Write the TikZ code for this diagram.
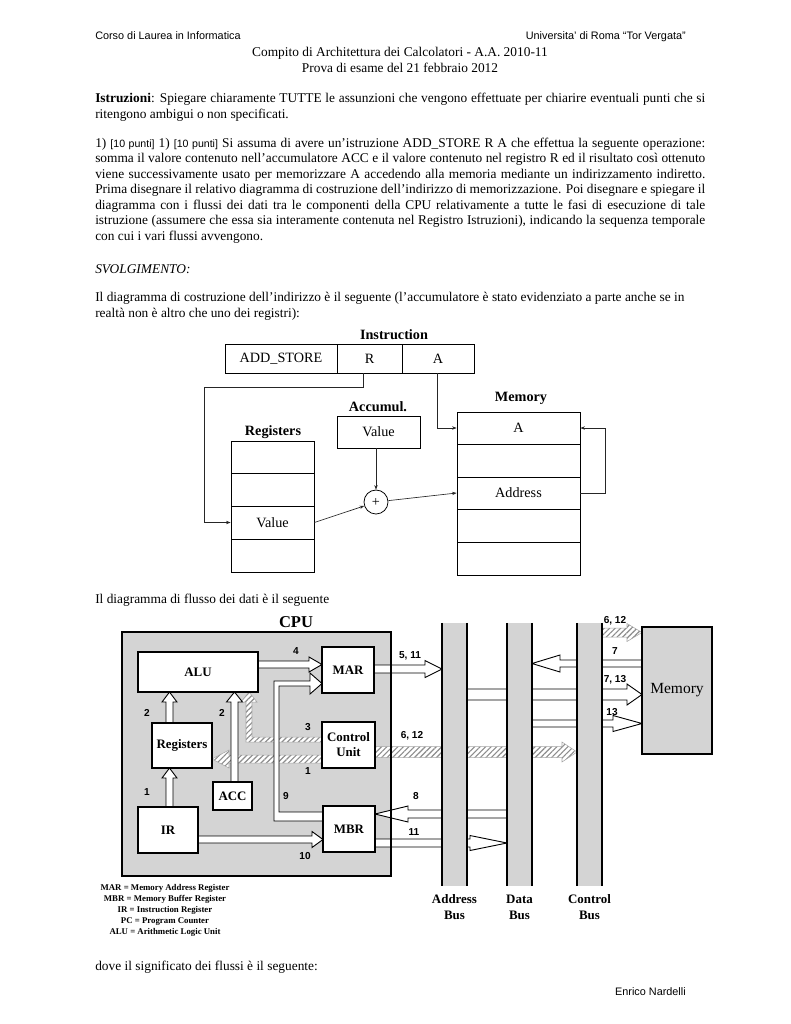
\documentclass[tikz,border=0pt]{standalone}
\usepackage{fontspec}
\setmainfont{Liberation Serif}
\newfontfamily\arialf{Liberation Sans}
\usetikzlibrary{patterns.meta,arrows.meta,calc}
\newcommand\bodyfont{\fontsize{10.35}{12}\selectfont}
\newlength\jw \setlength\jw{472pt}
\newcommand\jl[1]{\makebox[\jw][s]{#1}}
\newcommand\pnt{{\arialf\fontsize{8.2}{10}\selectfont [10 punti]}}
% rectangle node from corners: [style]{name}{x1}{y1}{x2}{y2}{text}
\newcommand\rbox[7][]{\node[rbx,#1,minimum width={(#5-#3)*0.7737pt},minimum height={(#6-#4)*0.7737pt}] (#2) at ({(#3+#5)/2},{(#4+#6)/2}) {#7};}
% horizontal block arrow: [style]{xstart}{xbase}{xtip}{yc}{hw}{hhw}
\newcommand\harr[7][]{\draw[barrow,#1] (#2,{#5-#6}) -- (#3,{#5-#6}) -- (#3,{#5-#7}) -- (#4,#5) -- (#3,{#5+#7}) -- (#3,{#5+#6}) -- (#2,{#5+#6}) -- cycle;}
% vertical block arrow: [style]{ystart}{ybase}{ytip}{xc}{hw}{hhw}
\newcommand\varr[7][]{\draw[barrow,#1] ({#5-#6},#2) -- ({#5-#6},#3) -- ({#5-#7},#3) -- (#5,#4) -- ({#5+#7},#3) -- ({#5+#6},#3) -- ({#5+#6},#2) -- cycle;}
\definecolor{cpugray}{RGB}{212,212,212}
\begin{document}
\begin{tikzpicture}[x=0.7737pt,y=-0.7737pt,
  txt/.style={anchor=base west,inner sep=0pt,font=\bodyfont},
  hdr/.style={inner sep=0pt,font=\arialf\fontsize{8.4}{10}\selectfont},
  rbx/.style={draw,line width=0.6pt,fill=white,inner sep=0pt,font=\fontsize{11}{13}\selectfont},
  cbx/.style={line width=1.1pt,font=\bfseries\fontsize{10}{11.5}\selectfont,align=center},
  dtitle/.style={inner sep=0pt,font=\bfseries\fontsize{11}{13}\selectfont},
  thinl/.style={line width=0.5pt,draw=black!85,-{Stealth[length=3.5pt,width=2.6pt]}},
  barrow/.style={draw=black,line width=0.7pt,fill=white,line join=miter},
  hatch/.style={draw=gray!70,line width=0.4pt,preaction={fill=white},pattern={Lines[angle=45,distance=3pt,line width=0.9pt]},pattern color=gray!90},
  num/.style={inner sep=0pt,font=\arialf\bfseries\fontsize{7.8}{9}\selectfont},
  bus/.style={fill=cpugray,inner sep=0pt,minimum width={25*0.7737pt},minimum height={263*0.7737pt}},
  buslbl/.style={align=center,inner sep=0pt,font=\bfseries\fontsize{10}{12.4}\selectfont}]
\useasboundingbox (0,0) rectangle (791,1024);
\fill[white] (0,0) rectangle (791,1024);

% ---------------- text ----------------
\node[hdr,anchor=base west] (h1) at (95,39) {Corso di Laurea in Informatica};
\node[hdr,anchor=base east] (h2) at (686,39) {Universita’ di Roma “Tor Vergata”};
\node[txt,anchor=base] (t1) at (400,56) {Compito di Architettura dei Calcolatori - A.A. 2010-11};
\node[txt,anchor=base] (t2) at (400,72) {Prova di esame del 21 febbraio 2012};
\node[txt] (i1) at (95,102) {\jl{\textbf{Istruzioni}: Spiegare chiaramente TUTTE le assunzioni che vengono effettuate per chiarire eventuali punti che si}};
\node[txt] (i2) at (95,118) {ritengono ambigui o non specificati.};
\node[txt] (p1) at (95,147) {\jl{1) \pnt{} 1) \pnt{} Si assuma di avere un’istruzione ADD\_STORE R A che effettua la seguente operazione:}};
\node[txt] (p2) at (95,162.5) {\jl{somma il valore contenuto nell’accumulatore ACC e il valore contenuto nel registro R ed il risultato così ottenuto}};
\node[txt] (p3) at (95,178) {\jl{viene successivamente usato per memorizzare A accedendo alla memoria mediante un indirizzamento indiretto.}};
\node[txt] (p4) at (95,193.5) {\jl{Prima disegnare il relativo diagramma di costruzione dell’indirizzo di memorizzazione. Poi disegnare e spiegare il}};
\node[txt] (p5) at (95,209) {\jl{diagramma con i flussi dei dati tra le componenti della CPU relativamente a tutte le fasi di esecuzione di tale}};
\node[txt] (p6) at (95,224.5) {\jl{istruzione (assumere che essa sia interamente contenuta nel Registro Istruzioni), indicando la sequenza temporale}};
\node[txt] (p7) at (95,240) {con cui i vari flussi avvengono.};
\node[txt] (sv) at (95,273) {\textit{SVOLGIMENTO:}};
\node[txt] (d1) at (95,301) {Il diagramma di costruzione dell’indirizzo è il seguente (l’accumulatore è stato evidenziato a parte anche se in};
\node[txt] (d2) at (95,317) {realtà non è altro che uno dei registri):};
\node[txt] (f1) at (95,603) {Il diagramma di flusso dei dati è il seguente};
\node[txt] (f2) at (95,970) {dove il significato dei flussi è il seguente:};
\node[hdr,anchor=base east] (en) at (686,995) {Enrico Nardelli};

% ---------------- address construction diagram ----------------
\node[dtitle] (tins) at (394,335) {Instruction};
\rbox{ins1}{225}{344}{337}{373}{ADD\_STORE}
\rbox{ins2}{337}{344}{402}{373}{R}
\rbox{ins3}{402}{344}{474}{373}{A}
\node[dtitle] (tacc) at (378,407) {Accumul.};
\rbox[text depth=0pt]{acc}{337}{416}{420}{448}{Value}
\node[dtitle] (treg) at (273,432) {Registers};
\rbox{reg1}{231}{441}{314}{473}{}
\rbox{reg2}{231}{473}{314}{506}{}
\rbox{reg3}{231}{506}{314}{539}{Value}
\rbox{reg4}{231}{539}{314}{572}{}
\node[dtitle] (tmem) at (521,398) {Memory};
\rbox{mem1}{457}{412}{580}{444}{A}
\rbox{mem2}{457}{444}{580}{477}{}
\rbox{mem3}{457}{477}{580}{509}{Address}
\rbox{mem4}{457}{509}{580}{542}{}
\rbox{mem5}{457}{542}{580}{575}{}
\node[draw,line width=0.6pt,circle,minimum size={24*0.7737pt},inner sep=0pt,font=\fontsize{11}{13}\selectfont] (plus) at (376,502) {+};
\coordinate (rdown) at (363,387);
\coordinate (rleft) at (204,522.5);
\coordinate (loopr) at (605,493);
\draw[thinl] (ins2.south -| rdown) -- (rdown) -| (rleft) -- (reg3.west);
\draw[thinl] (ins3.south -| 437,0) |- (mem1.west);
\draw[thinl] (plus.north |- acc.south) -- (plus.north);
\draw[thinl] (reg3.east) -- (plus);
\draw[thinl] (plus) -- (mem3.west);
\draw[thinl] (mem3.east) -- (loopr) |- (mem1.east);

% ---------------- data flow diagram ----------------
\node[inner sep=0pt,font=\bfseries\fontsize{12.8}{14}\selectfont] (tcpu) at (296,622) {CPU};
\fill[cpugray] (122,632) rectangle (391,876);
% hatched arrows
\draw[hatch] (322,737) -- (252,737) -- (252,702) -- (257,702) -- (249,692) -- (241,702) -- (246,702) -- (246,742) -- (322,742) -- cycle;
\harr[hatch]{322}{229}{212}{759}{4}{9}
\harr[hatch]{375}{562}{577}{752}{5.5}{10}
\harr[hatch]{602}{627}{642}{632.5}{4.5}{9}
% white block arrows
\varr{807}{778}{768}{169.5}{3.5}{7.5}
\varr{723}{702}{692}{169.5}{3.5}{7.5}
\varr{782}{702}{692}{234.5}{3.5}{8}
\harr{258}{309}{322}{664.5}{3.5}{7.5}
\draw[barrow] (323,812) -- (279,812) -- (279,686) -- (310,686) -- (310,694) -- (322,683.5) -- (310,673) -- (310,681) -- (274,681) -- (274,821) -- (323,821) -- cycle;
\harr{198}{312}{323}{839.5}{3.5}{8}
\harr{374}{425}{442}{669}{4}{8.5}
\harr{507}{408}{375}{814}{4}{8}
\harr{375}{470}{507}{843}{4}{7.5}
\harr{642}{560}{532}{663.5}{3.5}{8.5}
\harr{467}{627}{642}{694.5}{5.5}{10.5}
\harr{532}{613}{642}{723.5}{3.5}{8}
% component boxes
\rbox[cbx]{alu}{138}{652}{258}{692}{ALU}
\rbox[cbx]{regs}{152}{723}{212}{768}{Registers}
\rbox[cbx]{ir}{138}{807}{198}{853}{IR}
\rbox[cbx]{accb}{213}{782}{252}{810}{ACC}
\rbox[cbx]{mar}{322}{647}{374}{693}{MAR}
\rbox[cbx]{cu}{322}{722}{375}{768}{Control\\Unit}
\rbox[cbx]{mbr}{323}{806}{375}{852}{MBR}
\draw[line width=2.2pt] (122,632) rectangle (391,876);
% buses
\node[bus] (abus) at (454.5,754.5) {};
\node[bus] (dbus) at (519.5,754.5) {};
\node[bus] (cbus) at (589.5,754.5) {};
\foreach \b in {abus,dbus,cbus}{
  \draw[line width=1.7pt] (\b.north west) -- (\b.south west);
  \draw[line width=1.7pt] (\b.north east) -- (\b.south east);
}
\rbox[fill=cpugray,line width=1pt,font=\fontsize{12}{14}\selectfont]{memb}{642}{627}{712}{754}{Memory}
\node[buslbl] (labus) at (454.5,907) {Address\\Bus};
\node[buslbl] (ldbus) at (519.5,907) {Data\\Bus};
\node[buslbl] (lcbus) at (589.5,907) {Control\\Bus};
% flow numbers
\node[num] (n4) at (296,651) {4};
\node[num] (n511) at (410,656) {5, 11};
\node[num] (n2a) at (147,713) {2};
\node[num] (n2b) at (222,713) {2};
\node[num] (n3) at (308,727) {3};
\node[num] (n612a) at (412,736) {6, 12};
\node[num] (n1a) at (308,771) {1};
\node[num] (n1b) at (147,792) {1};
\node[num] (n9) at (286,796) {9};
\node[num] (n8) at (416,796) {8};
\node[num] (n11) at (414,832) {11};
\node[num] (n10) at (305,856) {10};
\node[num] (n612b) at (615,621) {6, 12};
\node[num] (n7) at (615,651) {7};
\node[num] (n713) at (615,680) {7, 13};
\node[num] (n13) at (612,712) {13};
% legend
\node[align=center,inner sep=0pt,font=\bfseries\fontsize{6.8}{8.5}\selectfont] (leg) at (165,910) {MAR = Memory Address Register\\MBR = Memory Buffer Register\\IR = Instruction Register\\PC = Program Counter\\ALU = Arithmetic Logic Unit};
\end{tikzpicture}
\end{document}
